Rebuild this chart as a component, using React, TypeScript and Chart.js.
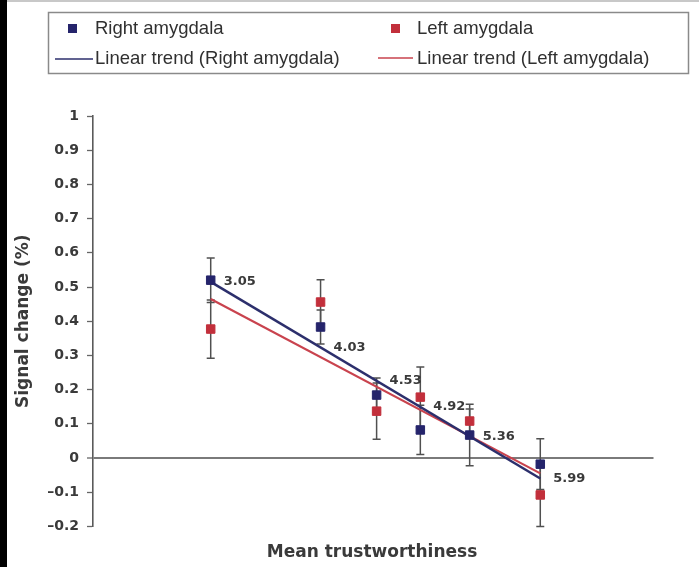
import React, { useEffect, useRef } from "react";
import { Chart, registerables } from "chart.js";

Chart.register(...registerables);

// ---- data ----
const trustworthiness = [3.05, 4.03, 4.53, 4.92, 5.36, 5.99];
const trustLabels = ["3.05", "4.03", "4.53", "4.92", "5.36", "5.99"];
const rightValues = [0.52, 0.383, 0.184, 0.082, 0.067, -0.018];
const rightErrors = [0.065, 0.05, 0.05, 0.072, 0.09, 0.074];
const leftValues = [0.377, 0.456, 0.137, 0.178, 0.108, -0.108];
const leftErrors = [0.085, 0.065, 0.082, 0.088, 0.035, 0.092];
const rightTrendX = [3.05, 5.99];
const rightTrendY = [0.515, -0.06];
const leftTrendX = [3.05, 5.99];
const leftTrendY = [0.465, -0.045];

const seriesNames = ["Right amygdala", "Left amygdala"];
const trendNames = ["Linear trend (Right amygdala)", "Linear trend (Left amygdala)"];
const xTitle = "Mean trustworthiness";
const yTitle = "Signal change (%)";

const BLUE = "#25246b";
const RED = "#c22f3b";
const BLUE_LINE = "#2c2f6c";
const RED_LINE = "#c9434e";
const TEXT = "#3a3a3a";

function trendAt(xs: number[], ys: number[], x: number) {
  const t = (x - xs[0]) / (xs[1] - xs[0]);
  return ys[0] + t * (ys[1] - ys[0]);
}

const decorPlugin = {
  id: "decor",
  beforeDraw(chart: any) {
    const ctx = chart.ctx;
    ctx.save();
    ctx.fillStyle = "#ffffff";
    ctx.fillRect(0, 0, chart.width, chart.height);
    ctx.restore();
  },
  beforeDatasetsDraw(chart: any) {
    // error bars
    const ctx = chart.ctx;
    const xs = chart.scales.x;
    const ys = chart.scales.y;
    ctx.save();
    ctx.strokeStyle = "#505050";
    ctx.lineWidth = 1.5;
    const draw = (vals: number[], errs: number[]) => {
      vals.forEach((v, i) => {
        const px = xs.getPixelForValue(trustworthiness[i]);
        const top = ys.getPixelForValue(v + errs[i]);
        const bot = ys.getPixelForValue(v - errs[i]);
        ctx.beginPath();
        ctx.moveTo(px, top);
        ctx.lineTo(px, bot);
        ctx.moveTo(px - 4, top);
        ctx.lineTo(px + 4, top);
        ctx.moveTo(px - 4, bot);
        ctx.lineTo(px + 4, bot);
        ctx.stroke();
      });
    };
    draw(leftValues, leftErrors);
    draw(rightValues, rightErrors);
    ctx.restore();
  },
  afterDatasetsDraw(chart: any) {
    const ctx = chart.ctx;
    const xs = chart.scales.x;
    const ys = chart.scales.y;
    ctx.save();
    ctx.fillStyle = TEXT;
    ctx.font = "bold 13px 'DejaVu Sans'";
    ctx.textAlign = "left";
    ctx.textBaseline = "middle";
    trustworthiness.forEach((t, i) => {
      const px = xs.getPixelForValue(t) + 13;
      const py = ys.getPixelForValue(trendAt(rightTrendX, rightTrendY, t));
      ctx.fillText(trustLabels[i], px, py);
    });
    ctx.restore();
  },
  afterDraw(chart: any) {
    const ctx = chart.ctx;
    const area = chart.chartArea;
    ctx.save();
    // frame artefacts of the scan
    ctx.fillStyle = "#000000";
    ctx.fillRect(0, 0, 7, chart.height);
    ctx.fillStyle = "#c8c8c8";
    ctx.fillRect(7, 0, chart.width - 7, 2);

    // legend box
    ctx.strokeStyle = "#8a8a8a";
    ctx.lineWidth = 1.5;
    ctx.strokeRect(48.5, 12.5, 640, 61);
    ctx.font = "18.5px 'Liberation Sans'";
    ctx.fillStyle = "#303030";
    ctx.textAlign = "left";
    ctx.textBaseline = "middle";
    ctx.fillStyle = BLUE;
    ctx.fillRect(68, 24, 9, 9);
    ctx.fillStyle = RED;
    ctx.fillRect(391, 24, 9, 9);
    ctx.fillStyle = "#303030";
    ctx.fillText(seriesNames[0], 95, 29);
    ctx.fillText(seriesNames[1], 417, 29);
    ctx.lineWidth = 1.6;
    ctx.strokeStyle = BLUE_LINE;
    ctx.beginPath();
    ctx.moveTo(55, 59);
    ctx.lineTo(93, 59);
    ctx.stroke();
    ctx.strokeStyle = RED_LINE;
    ctx.beginPath();
    ctx.moveTo(378, 58);
    ctx.lineTo(413, 58);
    ctx.stroke();
    ctx.fillStyle = "#303030";
    ctx.fillText(trendNames[0], 95, 59);
    ctx.fillText(trendNames[1], 417, 59);

    // x axis title
    ctx.font = "bold 17px 'DejaVu Sans'";
    ctx.fillStyle = TEXT;
    ctx.textAlign = "center";
    ctx.fillText(xTitle, 372, 553);
    ctx.restore();
    void area;
  },
};

export default function App() {
  const ref = useRef<HTMLCanvasElement | null>(null);
  useEffect(() => {
    if (!ref.current) return;
    const chart = new Chart(ref.current, {
      type: "scatter",
      data: {
        datasets: [
          {
            label: seriesNames[0],
            data: trustworthiness.map((x, i) => ({ x, y: rightValues[i] })),
            pointStyle: "rect",
            pointRadius: 6,
            backgroundColor: BLUE,
            borderColor: BLUE,
            borderWidth: 1,
            showLine: false,
          },
          {
            label: seriesNames[1],
            data: trustworthiness.map((x, i) => ({ x, y: leftValues[i] })),
            pointStyle: "rect",
            pointRadius: 6,
            backgroundColor: RED,
            borderColor: RED,
            borderWidth: 1,
            showLine: false,
          },
          {
            type: "line",
            label: trendNames[0],
            data: rightTrendX.map((x, i) => ({ x, y: rightTrendY[i] })),
            borderColor: BLUE_LINE,
            borderWidth: 2.5,
            pointRadius: 0,
            showLine: true,
            fill: false,
          } as any,
          {
            type: "line",
            label: trendNames[1],
            data: leftTrendX.map((x, i) => ({ x, y: leftTrendY[i] })),
            borderColor: RED_LINE,
            borderWidth: 2.2,
            pointRadius: 0,
            showLine: true,
            fill: false,
          } as any,
        ],
      },
      options: {
        responsive: false,
        animation: false,
        devicePixelRatio: 1,
        layout: { padding: { left: 0, top: 116, right: 45.5, bottom: 40.6 } },
        plugins: { legend: { display: false }, tooltip: { enabled: false } },
        scales: {
          x: { type: "linear", min: 2, max: 7, display: false },
          y: {
            type: "linear",
            min: -0.2,
            max: 1,
            afterFit: (s: any) => {
              s.width = 93;
            },
            ticks: {
              stepSize: 0.1,
              padding: 8,
              color: TEXT,
              font: { family: "'DejaVu Sans'", size: 14, weight: "bold" },
              callback: (v: any) => {
                const n = Math.round(Number(v) * 10) / 10;
                if (n === 0) return "0";
                if (n < 0) return "\u2013" + Math.abs(n);
                return String(n);
              },
            },
            grid: {
              drawOnChartArea: true,
              color: (c: any) => (c.tick && Math.abs(c.tick.value) < 1e-9 ? "#7a7a7a" : "rgba(0,0,0,0)"),
              lineWidth: (c: any) => (c.tick && Math.abs(c.tick.value) < 1e-9 ? 2 : 1),
              tickColor: "#666666",
              tickLength: 6,
              tickWidth: 1.3,
            },
            border: { display: true, color: "#5a5a5a", width: 1.6 },
            title: {
              display: true,
              text: yTitle,
              color: TEXT,
              font: { family: "'DejaVu Sans'", size: 17, weight: "bold" },
              padding: { top: 13, bottom: 0 },
            },
          },
        },
      },
      plugins: [decorPlugin],
    });
    return () => chart.destroy();
  }, []);
  return (
    <div style={{ position: "absolute", left: 0, top: 0, width: 699, height: 567, background: "#fff" }}>
      <canvas ref={ref} width={699} height={567} style={{ display: "block", width: 699, height: 567 }} />
    </div>
  );
}
